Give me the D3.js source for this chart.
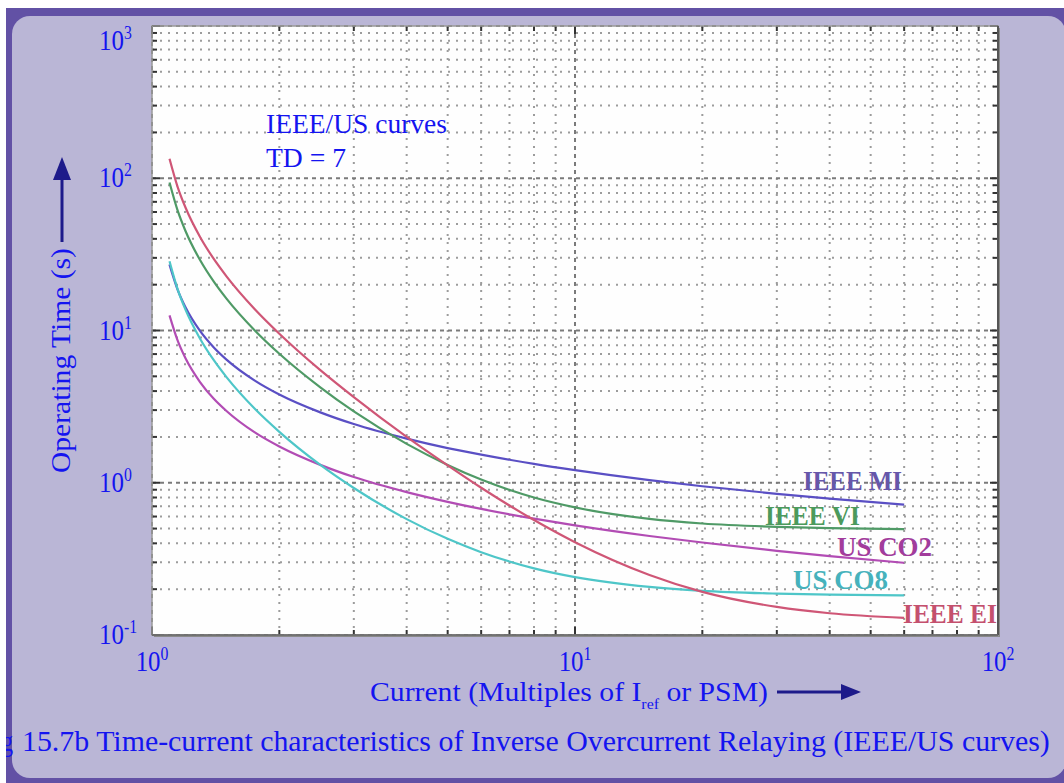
<!DOCTYPE html>
<html><head><meta charset="utf-8">
<script src="https://cdn.jsdelivr.net/npm/d3@7/dist/d3.min.js"></script>
<style>html,body{margin:0;padding:0;background:#fff;overflow:hidden}</style>
</head><body>
<svg id="c" width="1064" height="783"></svg>
<script>
// ---------- data ----------
const current = [1.1, 1.15, 1.2, 1.3, 1.4, 1.5, 1.75, 2, 2.5, 3, 4, 5, 6, 8, 10, 15, 20, 30, 40, 60];
const ieeeMI = [27.11, 18.51, 14.21, 9.90, 7.74, 6.44, 4.69, 3.80, 2.90, 2.43, 1.95, 1.69, 1.53, 1.33, 1.21, 1.04, 0.948, 0.846, 0.787, 0.718];
const ieeeVI = [93.87, 61.30, 45.06, 28.91, 20.92, 16.18, 10.00, 7.03, 4.23, 2.94, 1.80, 1.31, 1.05, 0.80, 0.689, 0.579, 0.540, 0.513, 0.503, 0.496];
const ieeeEI = [134.4, 87.56, 64.21, 40.99, 29.50, 22.68, 13.79, 9.52, 5.49, 3.65, 2.00, 1.30, 0.927, 0.569, 0.407, 0.248, 0.192, 0.153, 0.139, 0.1295];
const usCO8 = [28.51, 18.63, 13.70, 8.80, 6.38, 4.94, 3.06, 2.16, 1.31, 0.924, 0.577, 0.428, 0.350, 0.274, 0.240, 0.207, 0.195, 0.187, 0.184, 0.182];
const usCO2 = [12.56, 8.57, 6.57, 4.57, 3.56, 2.96, 2.14, 1.73, 1.31, 1.09, 0.868, 0.749, 0.673, 0.581, 0.525, 0.447, 0.405, 0.357, 0.330, 0.298];
const seriesNames = ["IEEE MI", "IEEE VI", "US CO2", "US CO8", "IEEE EI"];
const seriesValues = [ieeeMI, ieeeVI, usCO2, usCO8, ieeeEI];
const xTickExps = [0, 1, 2];
const yTickExps = [-1, 0, 1, 2, 3];
const annotation = ["IEEE/US curves", "TD = 7"];
const yTitle = "Operating Time (s)";
const xTitle = ["Current (Multiples of I", "ref", " or PSM)"];
const caption = "15.7b Time-current characteristics of Inverse Overcurrent Relaying (IEEE/US curves)";

// ---------- styles ----------
const lineColors = ["#5a4fc4", "#4f9a66", "#b24cb4", "#4ec6c8", "#cf5676"];
const labelColors = ["#6657aa", "#4b9a5c", "#a23c9c", "#46b2bc", "#c4506e"];
const FONT = "'Liberation Serif','Times New Roman',serif";
const BLUE = "#1414f0";
const NAVY = "#1d1a8a";

const svg = d3.select("#c");
// frame
svg.append("rect").attr("x", 6).attr("y", 8).attr("width", 1100).attr("height", 800).attr("fill", "#6251a5");
svg.append("rect").attr("x", 12).attr("y", 16).attr("width", 1054).attr("height", 762).attr("rx", 18).attr("fill", "#bab6d6");

const L = 152, R = 998, T = 26, B = 635;
const x = d3.scaleLog().domain([1, 100]).range([L, R]);
const y = d3.scaleLog().domain([0.1, 1000]).range([B, T]);

// plot bg with shadow
svg.append("rect").attr("x", L + 2).attr("y", T + 2).attr("width", R - L).attr("height", B - T).attr("fill", "#8a8a8a");
svg.append("rect").attr("x", L).attr("y", T).attr("width", R - L).attr("height", B - T).attr("fill", "#fefefe");

// grid
const g = svg.append("g");
const xMinor = [], yMinor = [], xMajor = [], yMajor = [];
for (let e = 0; e < 2; e++) for (let k = 2; k <= 9; k++) xMinor.push(k * Math.pow(10, e));
for (let e = -1; e < 3; e++) for (let k = 2; k <= 9; k++) yMinor.push(k * Math.pow(10, e));
xTickExps.forEach(e => xMajor.push(Math.pow(10, e)));
yTickExps.forEach(e => yMajor.push(Math.pow(10, e)));

g.selectAll(".vm").data(xMinor).join("line")
  .attr("x1", d => x(d)).attr("x2", d => x(d)).attr("y1", T).attr("y2", B)
  .attr("stroke", "#9c9c9c").attr("stroke-width", 2).attr("stroke-dasharray", "2,6");
g.selectAll(".hm").data(yMinor).join("line")
  .attr("y1", d => y(d)).attr("y2", d => y(d)).attr("x1", L).attr("x2", R)
  .attr("stroke", "#9c9c9c").attr("stroke-width", 2).attr("stroke-dasharray", "2,6");
g.selectAll(".vM").data(xMajor).join("line")
  .attr("x1", d => x(d)).attr("x2", d => x(d)).attr("y1", T).attr("y2", B)
  .attr("stroke", "#7a7a7a").attr("stroke-width", 2).attr("stroke-dasharray", "4,4");
g.selectAll(".hM").data(yMajor).join("line")
  .attr("y1", d => y(d)).attr("y2", d => y(d)).attr("x1", L).attr("x2", R)
  .attr("stroke", "#7a7a7a").attr("stroke-width", 2).attr("stroke-dasharray", "4,4");

// ticks on edges
const tk = svg.append("g").attr("stroke", "#333").attr("stroke-width", 2);
yMinor.concat(yMajor).forEach(v => {
  const len = yMajor.includes(v) ? 8 : 5;
  tk.append("line").attr("x1", L).attr("x2", L + len).attr("y1", y(v)).attr("y2", y(v));
  tk.append("line").attr("x1", R - len).attr("x2", R).attr("y1", y(v)).attr("y2", y(v));
});
xMinor.concat(xMajor).forEach(v => {
  const len = xMajor.includes(v) ? 8 : 5;
  tk.append("line").attr("y1", B).attr("y2", B - len).attr("x1", x(v)).attr("x2", x(v));
  tk.append("line").attr("y1", T).attr("y2", T + len).attr("x1", x(v)).attr("x2", x(v));
});
svg.append("rect").attr("x", L).attr("y", T).attr("width", R - L).attr("height", B - T)
  .attr("fill", "none").attr("stroke", "#9a9a9a").attr("stroke-width", 1.5);
svg.append("line").attr("x1", R).attr("x2", R).attr("y1", T).attr("y2", B).attr("stroke", "#555").attr("stroke-width", 2);
svg.append("line").attr("x1", L).attr("x2", R).attr("y1", B).attr("y2", B).attr("stroke", "#666").attr("stroke-width", 1.5);

// curves
const line = d3.line().x(d => x(d[0])).y(d => y(d[1])).curve(d3.curveMonotoneX);
seriesValues.forEach((vals, i) => {
  svg.append("path").datum(current.map((c, j) => [c, vals[j]]))
    .attr("d", line).attr("fill", "none").attr("stroke", lineColors[i]).attr("stroke-width", 2.2);
});

// helper: fit text to width
function fit(sel, tx, ty, width, rot) {
  const w = sel.node().getComputedTextLength();
  sel.attr("transform", `translate(${tx},${ty})` + (rot ? ` rotate(${rot})` : "") + ` scale(${width / w},1)`);
}
function fitBBox(sel, tx, ty, width, rot) {
  const w = sel.node().getBBox().width;
  sel.attr("transform", `translate(${tx},${ty})` + (rot ? ` rotate(${rot})` : "") + ` scale(${width / w},1)`);
}

// tick labels
const SX = 0.83;
yTickExps.forEach(e => {
  const by = Math.max(y(Math.pow(10, e)) + 9, 50);
  const t = svg.append("text").attr("font-family", FONT).attr("font-size", 30).attr("fill", BLUE)
    .attr("transform", `translate(99,${by}) scale(${SX},1)`);
  t.append("tspan").text("10");
  t.append("tspan").attr("font-size", 19).attr("dy", -11).text(e);
});
xTickExps.forEach(e => {
  const t = svg.append("text").attr("font-family", FONT).attr("font-size", 30).attr("fill", BLUE)
    .attr("text-anchor", "middle").attr("transform", `translate(${x(Math.pow(10, e))},671) scale(${SX},1)`);
  t.append("tspan").text("10");
  t.append("tspan").attr("font-size", 19).attr("dy", -11).text(e);
});

// annotation
const a1 = svg.append("text").attr("font-family", FONT).attr("font-size", 28).attr("fill", BLUE).text(annotation[0]);
fit(a1, 266, 133, 181);
const a2 = svg.append("text").attr("font-family", FONT).attr("font-size", 28).attr("fill", BLUE).text(annotation[1]);
fit(a2, 266, 167, 80);

// curve labels
const labPos = [[803, 490, 99], [765, 525, 95], [837, 556, 95], [793, 589, 95], [903, 623, 94]];
seriesNames.forEach((n, i) => {
  const t = svg.append("text").attr("font-family", FONT).attr("font-size", 28).attr("font-weight", "bold")
    .attr("fill", labelColors[i]).text(n);
  fit(t, labPos[i][0], labPos[i][1], labPos[i][2]);
});

// y title + arrow
const yt = svg.append("text").attr("font-family", FONT).attr("font-size", 27).attr("fill", BLUE).text(yTitle);
fit(yt, 70, 473, 225, -90);
svg.append("line").attr("x1", 62).attr("x2", 62).attr("y1", 242).attr("y2", 175).attr("stroke", NAVY).attr("stroke-width", 3);
svg.append("path").attr("d", "M62,157 L53,180 L71,180 Z").attr("fill", NAVY);

// x title + arrow
const xt = svg.append("text").attr("font-family", FONT).attr("font-size", 28).attr("fill", BLUE);
xt.append("tspan").text(xTitle[0]);
xt.append("tspan").attr("font-size", 15).attr("dy", 8).text(xTitle[1]);
xt.append("tspan").attr("dy", -8).text(xTitle[2]);
fitBBox(xt, 370, 701, 398);
svg.append("line").attr("x1", 777).attr("x2", 846).attr("y1", 692).attr("y2", 692).attr("stroke", NAVY).attr("stroke-width", 3);
svg.append("path").attr("d", "M861,692 L841,684 L841,700 Z").attr("fill", NAVY);

// caption
const cap = svg.append("text").attr("font-family", FONT).attr("font-size", 29).attr("fill", BLUE).text(caption);
fit(cap, 22, 751, 1028);
const pre = svg.append("text").attr("font-family", FONT).attr("font-size", 29).attr("fill", BLUE)
  .attr("text-anchor", "end").attr("transform", "translate(13,751) scale(0.8,1)").text("Fig");
svg.append("rect").attr("x", 0).attr("y", 0).attr("width", 6).attr("height", 783).attr("fill", "#fff");
</script>
</body></html>
